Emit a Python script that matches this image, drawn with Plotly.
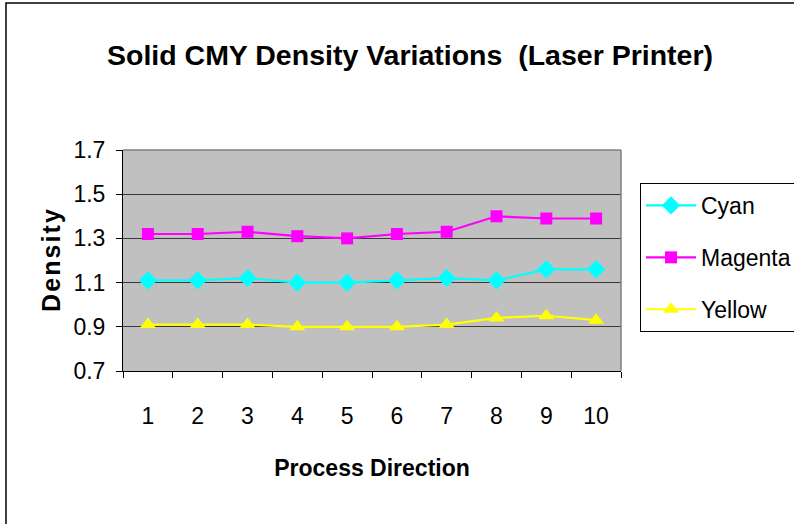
import plotly.graph_objects as go

# Solid density readings along the process direction
positions = ["1", "2", "3", "4", "5", "6", "7", "8", "9", "10"]
cyan = [1.11, 1.11, 1.12, 1.10, 1.10, 1.11, 1.12, 1.11, 1.16, 1.16]
magenta = [1.32, 1.32, 1.33, 1.31, 1.30, 1.32, 1.33, 1.40, 1.39, 1.39]
yellow = [0.91, 0.91, 0.91, 0.90, 0.90, 0.90, 0.91, 0.94, 0.95, 0.93]
y_ticks = [0.7, 0.9, 1.1, 1.3, 1.5, 1.7]

FONT = "Liberation Sans, Arial, sans-serif"

W, H = 794, 524
L, R, T, B = 123, 173, 150, 153
pw, ph = W - L - R, H - T - B


def px_x(p):
    return (p - L) / pw


def px_y(p):
    return (H - B - p) / ph


series = [
    ("Cyan", cyan, "#00FFFF", "diamond", 14),
    ("Magenta", magenta, "#FF00FF", "square", 12),
    ("Yellow", yellow, "#FFFF00", "triangle-up", 14),
]

fig = go.Figure()
for name, vals, color, sym, size in series:
    fig.add_trace(go.Scatter(
        x=positions, y=vals, name=name, mode="lines+markers",
        line=dict(color=color, width=2.2),
        marker=dict(symbol=sym, size=size, color=color),
        legendgroup=name,
    ))

fig.update_layout(
    width=W, height=H,
    margin=dict(l=L, r=R, t=T, b=B, autoexpand=False),
    paper_bgcolor="white",
    plot_bgcolor="#C0C0C0",
    font=dict(family=FONT, color="black"),
    title=dict(
        text="<b>Solid CMY Density Variations  (Laser Printer)</b>",
        font=dict(family=FONT, size=28.5, color="black"),
        x=410 / W, xanchor="center", xref="container",
        y=1 - 55 / H, yanchor="middle", yref="container",
    ),
    xaxis=dict(
        type="category",
        range=[-0.5, len(positions) - 0.5],
        tickson="boundaries",
        ticks="outside", ticklen=6, tickcolor="black",
        showline=True, linecolor="black", linewidth=1,
        showgrid=False,
        tickfont=dict(size=23),
        ticklabelstandoff=24,
        title=dict(text="<b>Process Direction</b>", font=dict(size=23), standoff=32),
    ),
    yaxis=dict(
        range=[0.7, 1.7],
        tickvals=y_ticks,
        ticktext=[f"{v:.1f}" for v in y_ticks],
        ticks="outside", ticklen=6, tickcolor="black",
        showline=True, linecolor="black", linewidth=1,
        showgrid=True, gridcolor="#3a3a3a", gridwidth=1,
        zeroline=False,
        tickfont=dict(size=23),
        ticklabelstandoff=6,
        title=dict(text="<b>D\u200ae\u200an\u200as\u200ai\u200at\u200ay</b>", font=dict(size=25), standoff=5),
    ),
    legend=dict(
        x=px_x(640), xanchor="left",
        y=px_y(183), yanchor="top",
        bordercolor="black", borderwidth=1,
        bgcolor="white",
        font=dict(size=23),
        traceorder="grouped",
        tracegroupgap=19,
        itemwidth=50,
    ),
    shapes=[
        # gray plot-area frame on top and right
        dict(type="line", xref="paper", yref="paper", x0=0, x1=1, y0=1, y1=1,
             line=dict(color="#808080", width=1.5)),
        dict(type="line", xref="paper", yref="paper", x0=1, x1=1, y0=0, y1=1,
             line=dict(color="#808080", width=1.5)),
        # outer chart border
        dict(type="rect", xref="paper", yref="paper",
             x0=px_x(6), x1=px_x(810), y0=px_y(540), y1=px_y(3),
             line=dict(color="black", width=1.5), layer="above"),
    ],
)

fig.write_html("out.html")
